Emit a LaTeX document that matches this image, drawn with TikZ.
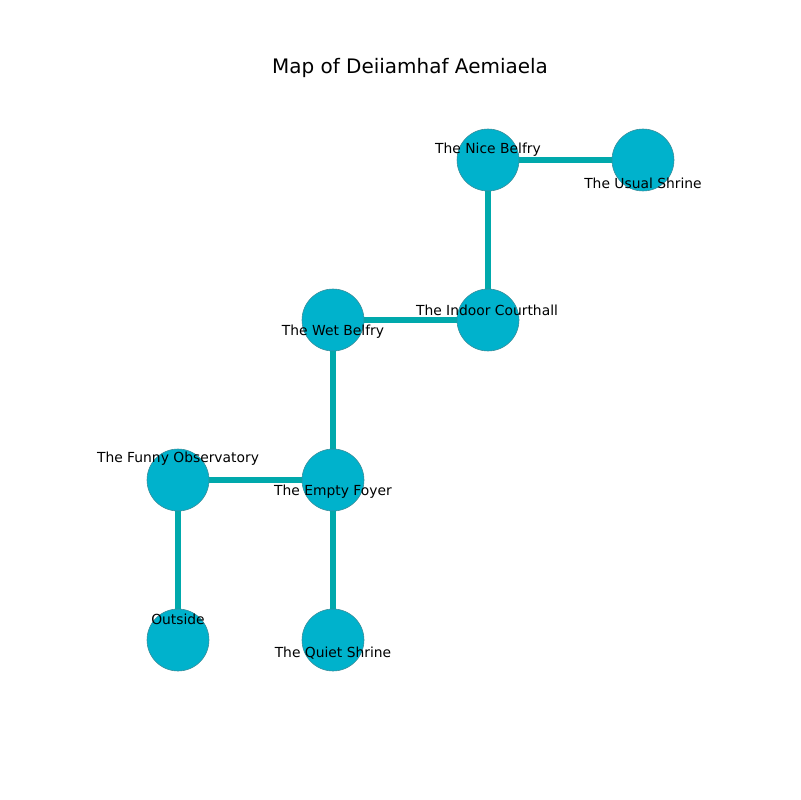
\documentclass[tikz,border=0pt]{standalone}
\usepackage{fontspec}
\setmainfont{DejaVu Sans}
\definecolor{roomfill}{HTML}{00B2CC}
\definecolor{roomedge}{HTML}{3A8C99}
\definecolor{passage}{HTML}{00A9AC}
\begin{document}
\begin{tikzpicture}[x=0.025cm,y=-0.025cm,
  room/.style={circle,fill=roomfill,draw=roomedge,line width=0.4pt,minimum size=62*0.025cm,inner sep=0pt},
  passage/.style={draw=passage,line width=4.2pt},
  lbl/.style={font=\fontsize{9.85}{11}\selectfont,text=black,inner sep=0pt,anchor=center}]
\useasboundingbox[fill=white] (0,0) rectangle (800,800);
\node[font=\fontsize{14.2}{17}\selectfont] (title) at (410,68) {Map of Deiiamhaf Aemiaela};
% rooms
\coordinate (pnice) at (488,160);
\coordinate (pusual) at (643,160);
\coordinate (pindoor) at (488,320);
\coordinate (pwet) at (333,320);
\coordinate (pfunny) at (178,480);
\coordinate (pempty) at (333,480);
\coordinate (pout) at (178,640);
\coordinate (pquiet) at (333,640);
% passages
\draw[passage] (pnice) -- (pusual);
\draw[passage] (pnice) -- (pindoor);
\draw[passage] (pindoor) -- (pwet);
\draw[passage] (pwet) -- (pempty);
\draw[passage] (pempty) -- (pfunny);
\draw[passage] (pempty) -- (pquiet);
\draw[passage] (pfunny) -- (pout);
\node[room] (nice) at (pnice) {};
\node[room] (usual) at (pusual) {};
\node[room] (indoor) at (pindoor) {};
\node[room] (wet) at (pwet) {};
\node[room] (funny) at (pfunny) {};
\node[room] (empty) at (pempty) {};
\node[room] (out) at (pout) {};
\node[room] (quiet) at (pquiet) {};
% labels
\node[lbl] (lnice) at (488,150) {The Nice Belfry};
\node[lbl] (lusual) at (643,183) {The Usual Shrine};
\node[lbl] (lindoor) at (487,310) {The Indoor Courthall};
\node[lbl] (lwet) at (333,332) {The Wet Belfry};
\node[lbl] (lfunny) at (178,459) {The Funny Observatory};
\node[lbl] (lempty) at (333,492) {The Empty Foyer};
\node[lbl] (lout) at (178,619) {Outside};
\node[lbl] (lquiet) at (333,653) {The Quiet Shrine};
\end{tikzpicture}
\end{document}
